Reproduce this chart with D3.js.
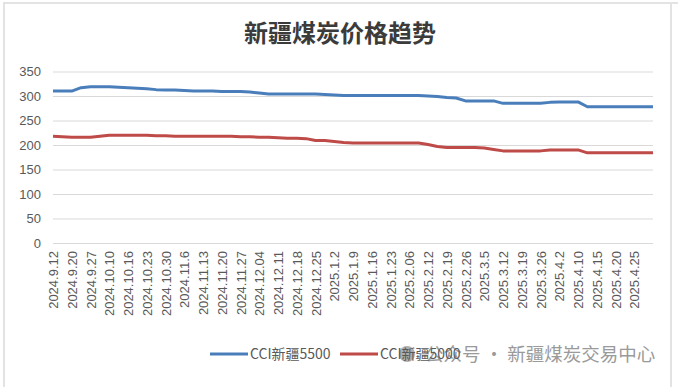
<!DOCTYPE html>
<html><head><meta charset="utf-8">
<script src="https://cdn.jsdelivr.net/npm/d3@7/dist/d3.min.js"></script>
<style>html,body{margin:0;padding:0;background:#fff;}svg{display:block;}</style>
</head><body>
<svg id="chart" width="678" height="387"></svg>
<script>
const title = "新疆煤炭价格趋势";
const tickLabels = ["2024.9.12","2024.9.20","2024.9.27","2024.10.10","2024.10.16","2024.10.23","2024.10.30","2024.11.6","2024.11.13","2024.11.20","2024.11.27","2024.12.04","2024.12.11","2024.12.18","2024.12.25","2025.1.2","2025.1.9","2025.1.16","2025.1.23","2025.2.06","2025.2.12","2025.2.19","2025.2.26","2025.3.5","2025.3.12","2025.3.19","2025.3.26","2025.4.2","2025.4.10","2025.4.15","2025.4.20","2025.4.25"];
const seriesNames = ["CCI新疆5500","CCI新疆5000"];
const cci5500 = [310,310,310,317,319,319,319,318,317,316,315,313,312,312,311,310,310,310,309,309,309,308,306,304,304,304,304,304,304,303,302,301,301,301,301,301,301,301,301,301,300,299,297,296,290,290,290,290,285,285,285,285,285,287,288,288,288,278,278,278,278,278,278,278,278];
const cci5000 = [218,217,216,216,216,218,220,220,220,220,220,219,219,218,218,218,218,218,218,218,217,217,216,216,215,214,214,213,209,209,207,205,204,204,204,204,204,204,204,204,201,197,195,195,195,195,194,191,188,188,188,188,188,190,190,190,190,184,184,184,184,184,184,184,184];
const yTicks = [0,50,100,150,200,250,300,350];
const labelEvery = 2;
const watermark = "公众号 · 新疆煤炭交易中心";

const svg = d3.select("#chart");
const colors = ["#4a7ebb", "#be4b48"];
const mLeft = 53, mRight = 653, mTop = 71.5, mBottom = 243;

// frame
svg.append("path").attr("d", `M4,387 L4,3 L678,3 M671,3 L671,387`)
  .attr("fill","none").attr("stroke","#e3e3e3").attr("stroke-width",2);

svg.append("text").attr("x", 340).attr("y", 42).attr("text-anchor","middle")
  .attr("font-family","'Noto Sans CJK SC'").attr("font-weight","bold")
  .attr("font-size",24).attr("fill","#3b3b3b").text(title);

const y = d3.scaleLinear().domain([0,350]).range([mBottom, mTop]);
const x = d3.scaleLinear().domain([0, cci5500.length-1]).range([mLeft, mRight]);

const yAxis = d3.axisLeft(y).tickValues(yTicks).tickSize(-(mRight-mLeft)).tickPadding(12);
const gy = svg.append("g").attr("transform",`translate(${mLeft},0)`).call(yAxis);
gy.select(".domain").remove();
gy.selectAll(".tick line").attr("stroke","#d9d9d9").attr("stroke-width",1);
gy.selectAll(".tick text").attr("font-family","'Liberation Sans', Arial").attr("font-size",13).attr("fill","#595959");

const xAxis = d3.axisBottom(x).tickValues(tickLabels.map((d,i)=>i*labelEvery))
  .tickFormat((d)=>tickLabels[d/labelEvery]).tickSize(0);
const gx = svg.append("g").attr("transform",`translate(0,${mBottom})`).call(xAxis);
gx.select(".domain").remove();
gx.selectAll(".tick text")
  .attr("font-family","'Liberation Sans', Arial").attr("font-size",13).attr("fill","#595959")
  .attr("text-anchor","end").attr("transform","rotate(-90)")
  .attr("x",-8).attr("y",0).attr("dy","0.35em");

const line = d3.line().x((d,i)=>x(i)).y(d=>y(d));
[cci5500, cci5000].forEach((s,k)=>{
  svg.append("path").datum(s).attr("d", line).attr("fill","none")
    .attr("stroke", colors[k]).attr("stroke-width",3).attr("stroke-linejoin","round");
});

// watermark
svg.append("circle").attr("cx",407).attr("cy",354).attr("r",8).attr("fill","#9a9a9a").attr("opacity",0.8);
svg.append("text").attr("x",425).attr("y",361).attr("font-family","'Noto Sans CJK SC'")
  .attr("font-size",18.5).attr("fill","#9a9a9a").text(watermark);

// legend
const legX = [210, 340];
seriesNames.forEach((n,k)=>{
  svg.append("line").attr("x1",legX[k]).attr("x2",legX[k]+38).attr("y1",354).attr("y2",354)
    .attr("stroke",colors[k]).attr("stroke-width",3);
  svg.append("text").attr("x",legX[k]+40).attr("y",359).attr("font-family","'Noto Sans CJK SC'")
    .attr("font-size",14).attr("fill","#595959").text(n);
});
</script>
</body></html>
